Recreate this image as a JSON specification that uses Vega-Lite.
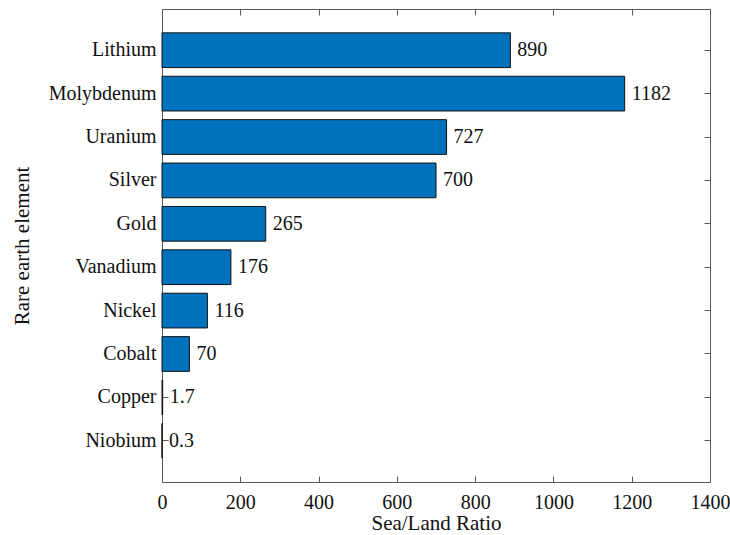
{
  "$schema": "https://vega.github.io/schema/vega-lite/v6.json",
  "width": 548,
  "height": 473,
  "autosize": {"type": "none"},
  "padding": {"left": 162, "top": 9, "right": 20, "bottom": 53},
  "background": "white",
  "config": {
    "view": {"stroke": null},
    "font": "Liberation Serif",
    "axis": {"grid": false, "domainColor": "#595959", "tickColor": "#595959", "labelColor": "#111", "titleColor": "#111", "labelFont": "Liberation Serif", "titleFont": "Liberation Serif", "labelFontSize": 20, "titleFontSize": 21, "titleFontWeight": "normal"}
  },
  "data": {"values": [
    {"element": "Lithium", "ratio": 890, "label": "890"},
    {"element": "Molybdenum", "ratio": 1182, "label": "1182"},
    {"element": "Uranium", "ratio": 727, "label": "727"},
    {"element": "Silver", "ratio": 700, "label": "700"},
    {"element": "Gold", "ratio": 265, "label": "265"},
    {"element": "Vanadium", "ratio": 176, "label": "176"},
    {"element": "Nickel", "ratio": 116, "label": "116"},
    {"element": "Cobalt", "ratio": 70, "label": "70"},
    {"element": "Copper", "ratio": 1.7, "label": "1.7"},
    {"element": "Niobium", "ratio": 0.3, "label": "0.3"}
  ]},
  "layer": [
    {
      "mark": {"type": "bar", "color": "#0072BD", "stroke": "#111", "strokeWidth": 1},
      "encoding": {
        "y": {"field": "element", "type": "nominal", "sort": null,
              "scale": {"paddingInner": 0.2, "paddingOuter": 0.55},
              "axis": {"orient": "left", "title": "Rare earth element", "tickSize": -6, "labelPadding": 12, "titlePadding": 16}},
        "x": {"field": "ratio", "type": "quantitative",
              "scale": {"domain": [0, 1400], "nice": false},
              "axis": {"orient": "bottom", "title": "Sea/Land Ratio", "format": "d", "values": [0,200,400,600,800,1000,1200,1400], "tickSize": -6, "labelPadding": 16, "titlePadding": 0, "labelFlush": false}}
      }
    },
    {
      "mark": {"type": "text", "align": "left", "baseline": "middle", "dx": 7, "fontSize": 20, "font": "Liberation Serif", "color": "#111"},
      "encoding": {
        "y": {"field": "element", "type": "nominal", "sort": null,
              "axis": {"orient": "right", "title": null, "labels": false, "tickSize": -6}},
        "x": {"field": "ratio", "type": "quantitative",
              "axis": {"orient": "top", "title": null, "labels": false, "values": [0,200,400,600,800,1000,1200,1400], "tickSize": -6}},
        "text": {"field": "label"}
      }
    }
  ],
  "resolve": {"axis": {"x": "independent", "y": "independent"}}
}
